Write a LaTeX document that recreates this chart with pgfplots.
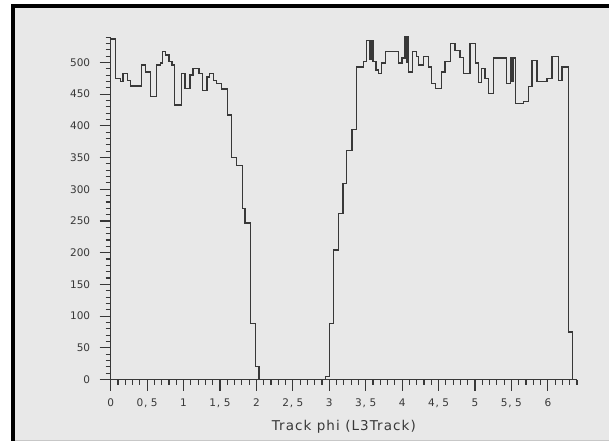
\documentclass[border=0pt]{standalone}
\usepackage{pgfplots}
\pgfplotsset{compat=1.18}
\usepackage{fontspec}
\setmainfont{DejaVu Sans}
\newfontfamily\lblfont[LetterSpace=8]{DejaVu Sans}
\definecolor{bg}{HTML}{E8E8E8}
\definecolor{ink}{HTML}{383838}
\newcommand{\cm}{\kern0.8pt,\kern3.5pt}
\begin{document}
\begin{tikzpicture}[x=1pt,y=1pt]
\fill[white] (0,0) rectangle (609,441);
\useasboundingbox (0,0) rectangle (609,441);
\fill[bg] (11,0) rectangle (609,436.5);
\fill[black] (11,0) rectangle (14.5,436.5);
\fill[black] (11,433) rectangle (609,436.5);
\fill[black!22] (14.5,0) rectangle (609,1.2);
\begin{axis}[
  at={(110.7pt,61.5pt)}, anchor=south west, scale only axis,
  width=466.3pt, height=342.4pt,
  xmin=0, xmax=6.4, ymin=0, ymax=540,
  axis lines=left,
  axis line style={-, line width=1.4pt, ink},
  tick align=outside,
  major tick length=11pt, minor tick length=5pt,
  every tick/.style={ink, line width=1.1pt},
  xtick={0,0.5,1,1.5,2,2.5,3,3.5,4,4.5,5,5.5,6},
  xticklabels={0,{0\cm5},1,{1\cm5},2,{2\cm5},3,{3\cm5},4,{4\cm5},5,{5\cm5},6},
  minor xtick={0.1,0.2,0.3,0.4,0.6,0.7,0.8,0.9,1.1,1.2,1.3,1.4,1.6,1.7,1.8,1.9,2.1,2.2,2.3,2.4,2.6,2.7,2.8,2.9,3.1,3.2,3.3,3.4,3.6,3.7,3.8,3.9,4.1,4.2,4.3,4.4,4.6,4.7,4.8,4.9,5.1,5.2,5.3,5.4,5.6,5.7,5.8,5.9,6.1,6.2,6.3,6.4},
  ytick={0,50,100,150,200,250,300,350,400,450,500},
  minor ytick={10,20,30,40,60,70,80,90,110,120,130,140,160,170,180,190,210,220,230,240,260,270,280,290,310,320,330,340,360,370,380,390,410,420,430,440,460,470,480,490,510,520,530,540},
  /pgf/number format/assume math mode=true,
  ticklabel style={font=\fontsize{10.5}{12}\selectfont, text=ink},
  xticklabel style={yshift=-5pt},
  yticklabel style={xshift=-6pt},
  xlabel={Track phi (L3Track)},
  every axis x label/.style={at={(axis description cs:0.5,0)}, anchor=center, yshift=-47pt, font=\fontsize{13.5}{15}\lblfont, text=ink},
  clip=false,
]
\addplot[const plot, draw=ink, line width=1.3pt] coordinates {
(0,0) (0,537) (0.07,475) (0.13,470) (0.17,483) (0.23,472) (0.27,463) (0.42,496) (0.48,485)
(0.55,446) (0.63,496) (0.68,499) (0.71,517) (0.755,512) (0.80,502) (0.84,496) (0.88,433)
(0.97,483) (1.02,459) (1.09,480) (1.13,491) (1.21,483) (1.26,456) (1.32,477) (1.36,483)
(1.41,472) (1.455,467) (1.52,458) (1.60,417) (1.661,350) (1.73,337) (1.807,270) (1.844,247)
(1.92,88) (1.99,20) (2.036,0) (2.95,5) (3.00,88) (3.057,204) (3.125,262) (3.19,309)
(3.24,361) (3.31,394) (3.378,493) (3.47,501) (3.51,535) (3.56,505) (3.575,535) (3.60,501) (3.64,488) (3.675,483)
(3.72,499) (3.775,517) (3.95,499) (4.00,507) (4.04,541) (4.06,500) (4.07,541) (4.09,485) (4.146,517) (4.20,509)
(4.224,496) (4.293,509) (4.361,493) (4.407,467) (4.453,459) (4.544,485) (4.59,501)
(4.659,530) (4.727,519) (4.796,508) (4.842,483) (4.933,530) (5.002,499) (5.048,468)
(5.093,490) (5.139,475) (5.185,451) (5.254,507) (5.437,467) (5.483,507) (5.50,470) (5.52,507) (5.551,435)
(5.666,438) (5.735,462) (5.781,503) (5.849,470) (5.987,475) (6.055,509) (6.147,472)
(6.193,493) (6.283,75) (6.34,0)
};
\end{axis}
\end{tikzpicture}
\end{document}
